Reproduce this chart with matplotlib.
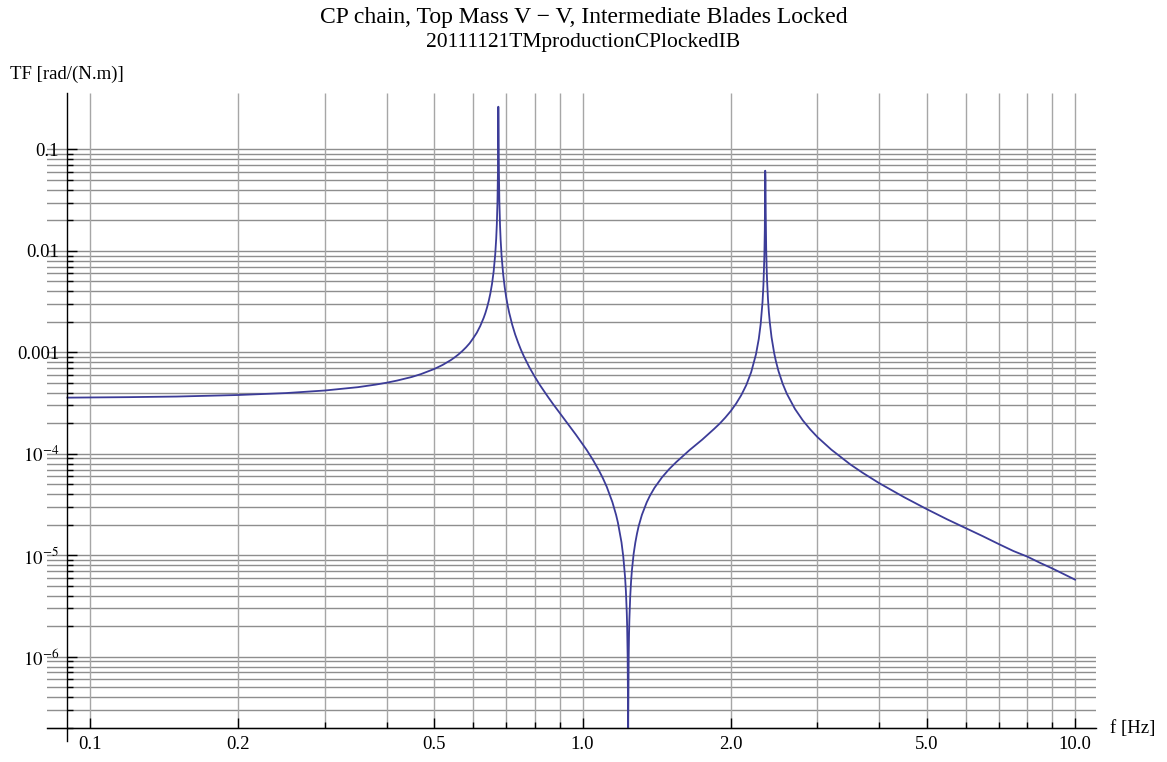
import matplotlib.pyplot as plt

plt.rcParams['font.family'] = ['Liberation Serif', 'DejaVu Serif']
plt.rcParams['mathtext.fontset'] = 'stix'

# frequency [Hz] and TF magnitude [rad/(N.m)]
freq = [0.09, 0.12, 0.15, 0.2, 0.25, 0.3, 0.35, 0.38, 0.4, 0.42,
        0.45, 0.47, 0.5, 0.52, 0.54, 0.55, 0.56, 0.57, 0.58, 0.59,
        0.6, 0.61, 0.62, 0.63, 0.635, 0.64, 0.645, 0.65, 0.655, 0.66,
        0.665, 0.668, 0.67, 0.672, 0.6735, 0.674, 0.6747, 0.676, 0.6765, 0.678,
        0.68, 0.682, 0.685, 0.69, 0.695, 0.7, 0.705, 0.71, 0.72, 0.73,
        0.74, 0.75, 0.76, 0.78, 0.8, 0.82, 0.85, 0.87, 0.9, 0.92,
        0.95, 0.97, 1.0, 1.02, 1.05, 1.08, 1.1, 1.12, 1.15, 1.17,
        1.18, 1.2, 1.21, 1.22, 1.225, 1.23, 1.232, 1.235, 1.237, 1.238,
        1.239, 1.241, 1.243, 1.245, 1.25, 1.255, 1.26, 1.27, 1.28, 1.29,
        1.3, 1.32, 1.35, 1.37, 1.4, 1.45, 1.5, 1.55, 1.6, 1.65,
        1.7, 1.75, 1.8, 1.85, 1.9, 1.95, 2.0, 2.05, 2.1, 2.15,
        2.2, 2.25, 2.28, 2.3, 2.32, 2.33, 2.337, 2.34, 2.345, 2.3485,
        2.349, 2.3495, 2.353, 2.355, 2.358, 2.36, 2.365, 2.37, 2.38, 2.39,
        2.4, 2.42, 2.45, 2.47, 2.5, 2.55, 2.6, 2.7, 2.8, 2.9,
        3.0, 3.2, 3.5, 3.7, 4.0, 4.5, 5.0, 5.5, 6.0, 6.5,
        7.0, 7.5, 8.0, 8.5, 9.0, 9.5, 10.0]
tf = [3.58e-4, 3.62e-4, 3.67e-4, 3.80e-4, 3.97e-4, 4.21e-4, 4.54e-4, 4.81e-4, 5.02e-4, 5.27e-4,
      5.72e-4, 6.11e-4, 6.86e-4, 7.52e-4, 8.38e-4, 8.92e-4, 9.55e-4, 1.03e-3, 1.12e-3, 1.23e-3,
      1.38e-3, 1.56e-3, 1.82e-3, 2.19e-3, 2.44e-3, 2.77e-3, 3.20e-3, 3.81e-3, 4.72e-3, 6.24e-3,
      9.28e-3, 1.32e-2, 1.84e-2, 3.06e-2, 6.10e-2, 9.14e-2, 0.264, 9.11e-2, 6.07e-2, 3.03e-2,
      1.81e-2, 1.29e-2, 8.97e-3, 5.93e-3, 4.41e-3, 3.49e-3, 2.88e-3, 2.45e-3, 1.87e-3, 1.50e-3,
      1.25e-3, 1.06e-3, 9.18e-4, 7.13e-4, 5.75e-4, 4.74e-4, 3.67e-4, 3.13e-4, 2.51e-4, 2.18e-4,
      1.77e-4, 1.54e-4, 1.25e-4, 1.09e-4, 8.72e-5, 6.85e-5, 5.75e-5, 4.73e-5, 3.34e-5, 2.50e-5,
      2.10e-5, 1.34e-5, 9.70e-6, 6.15e-6, 4.41e-6, 2.70e-6, 2.02e-6, 1.01e-6, 3.34e-7, 2.0e-7,
      3.33e-7, 9.98e-7, 1.66e-6, 2.32e-6, 3.95e-6, 5.56e-6, 7.15e-6, 1.03e-5, 1.33e-5, 1.63e-5,
      1.93e-5, 2.50e-5, 3.32e-5, 3.85e-5, 4.62e-5, 5.86e-5, 7.08e-5, 8.29e-5, 9.54e-5, 1.09e-4,
      1.23e-4, 1.38e-4, 1.56e-4, 1.76e-4, 1.99e-4, 2.28e-4, 2.64e-4, 3.12e-4, 3.78e-4, 4.75e-4,
      6.37e-4, 9.56e-4, 1.36e-3, 1.90e-3, 3.13e-3, 4.62e-3, 6.94e-3, 8.83e-3, 1.62e-2, 3.89e-2,
      4.86e-2, 0.0618, 4.86e-2, 2.43e-2, 1.39e-2, 1.08e-2, 6.94e-3, 5.12e-3, 3.35e-3, 2.49e-3,
      1.99e-3, 1.41e-3, 9.83e-4, 8.18e-4, 6.53e-4, 4.89e-4, 3.90e-4, 2.77e-4, 2.14e-4, 1.74e-4,
      1.46e-4, 1.10e-4, 7.84e-5, 6.53e-5, 5.15e-5, 3.73e-5, 2.85e-5, 2.26e-5, 1.85e-5, 1.54e-5,
      1.29e-5, 1.10e-5, 9.7e-6, 8.4e-6, 7.4e-6, 6.5e-6, 5.75e-6]

x_major = [0.1, 0.2, 0.5, 1.0, 2.0, 5.0, 10.0]
x_labels = ['0.1', '0.2', '0.5', '1.0', '2.0', '5.0', '10.0']
y_major = [1e-6, 1e-5, 1e-4, 1e-3, 1e-2, 1e-1]
y_labels = [r'$10^{-6}$', r'$10^{-5}$', r'$10^{-4}$', '0.001', '0.01', '0.1']

x_grid = [k * 10.0 ** n for n in (-1, 0) for k in range(1, 10)] + [10.0]
y_grid = [k * 10.0 ** n for n in range(-7, -1) for k in range(1, 10)] + [0.1]
y_grid = [v for v in y_grid if v >= 2e-7]
x_minor = [v for v in x_grid if v not in x_major]
y_minor = [v for v in y_grid if v not in y_major]

fig = plt.figure(figsize=(11.67, 7.62), dpi=100)
ax = fig.add_axes([47 / 1167, 1 - 741 / 762, 1049 / 1167, 648 / 762])
ax.set_xscale('log')
ax.set_yscale('log')
ax.set_xlim(0.0818, 11.03)
ax.set_ylim(1.476e-7, 0.3605)

# grid
for v in y_grid:
    ax.axhline(v, color='#8e8e8e', lw=1.0, zorder=1)
ax.vlines(x_grid, 2e-7, 0.3605, color='#a6a6a6', lw=1.0, zorder=1)

ax.plot(freq, tf, color='#3c3c98', lw=1.3, zorder=3)

# Mathematica-like axes crossing at (0.09, 2e-7)
ax.spines['top'].set_visible(False)
ax.spines['right'].set_visible(False)
ax.spines['left'].set_position(('data', 0.09))
ax.spines['bottom'].set_position(('data', 2e-7))
for s in ('left', 'bottom'):
    ax.spines[s].set_linewidth(1.0)
    ax.spines[s].set_zorder(4)

ax.set_xticks(x_major)
ax.set_xticklabels(x_labels)
ax.set_xticks(x_minor, minor=True)
ax.set_xticklabels([], minor=True)
ax.set_yticks(y_major)
ax.set_yticklabels(y_labels)
ax.set_yticks(y_minor, minor=True)
ax.set_yticklabels([], minor=True)
ax.tick_params(which='both', direction='in', width=1.0, labelsize=13.5)
ax.tick_params(which='major', length=7, pad=6)
ax.tick_params(which='minor', length=4)

fig.text(0.5, 1 - 18 / 762, 'CP chain, Top Mass V \u2212 V, Intermediate Blades Locked',
         ha='center', va='center', fontsize=17)
fig.text(0.5, 1 - 43 / 762, '20111121TMproductionCPlockedIB',
         ha='center', va='center', fontsize=15.5)
fig.text(10 / 1167, 1 - 74 / 762, 'TF [rad/(N.m)]', ha='left', va='center', fontsize=13.5)
fig.text(1110 / 1167, 1 - 729 / 762, 'f [Hz]', ha='left', va='center', fontsize=13.5)

plt.savefig('out.png', dpi=100)
